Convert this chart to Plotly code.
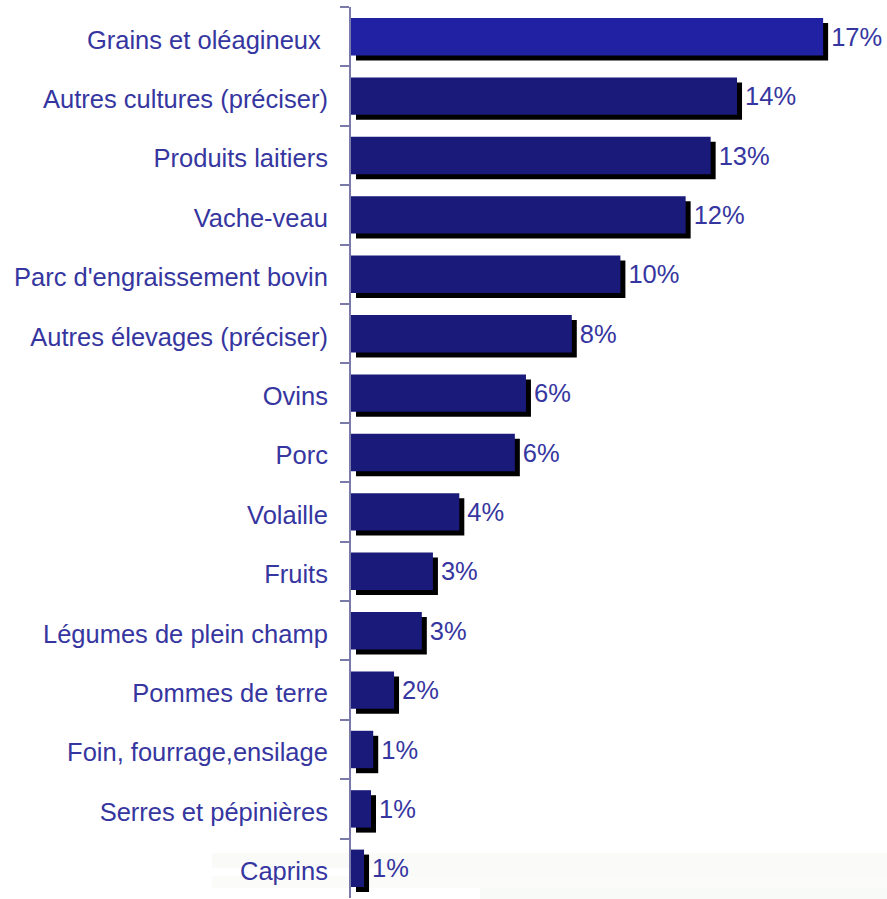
import plotly.graph_objects as go

categories = [
    "Grains et oléagineux\u00a0",
    "Autres cultures (préciser)",
    "Produits laitiers",
    "Vache-veau",
    "Parc d'engraissement bovin",
    "Autres élevages (préciser)",
    "Ovins",
    "Porc",
    "Volaille",
    "Fruits",
    "Légumes de plein champ",
    "Pommes de terre",
    "Foin, fourrage,ensilage",
    "Serres et pépinières",
    "Caprins",
]
values = [17.0, 13.9, 12.95, 12.05, 9.7, 7.95, 6.3, 5.9, 3.9, 2.95, 2.55, 1.55, 0.8, 0.72, 0.47]
value_labels = ["17%", "14%", "13%", "12%", "10%", "8%", "6%", "6%", "4%", "3%", "3%", "2%", "1%", "1%", "1%"]

bar_colors = ["#2121a3"] + ["#1a1a7a"] * (len(categories) - 1)
label_color = "#3636a0"
font_family = "Liberation Sans, Arial, sans-serif"
font_size = 25.5

W, H = 887, 899
ml, mr, mt, mb = 351, 0, 7, 1
x_max = 19.3
plot_w = W - ml - mr
plot_h = H - mt - mb
px_per_unit = plot_w / x_max
row_px = plot_h / len(categories)
bar_w = 0.63
shadow_dx = 5 / px_per_unit
shadow_dy = 5 / row_px

fig = go.Figure()

# shadow bars (black)
fig.add_trace(go.Bar(
    y=categories, x=values, orientation="h",
    base=[shadow_dx] * len(values),
    width=bar_w, offset=-bar_w / 2 + shadow_dy,
    marker=dict(color="#000000", line=dict(width=0)),
    hoverinfo="skip", showlegend=False,
))
# main bars
fig.add_trace(go.Bar(
    y=categories, x=values, orientation="h",
    width=bar_w, offset=-bar_w / 2,
    marker=dict(color=bar_colors, line=dict(width=0)),
    showlegend=False,
))
# transparent carrier for the value labels (placed after the shadow)
fig.add_trace(go.Bar(
    y=categories, x=values, orientation="h",
    base=[shadow_dx] * len(values),
    width=bar_w, offset=-bar_w / 2,
    marker=dict(color="rgba(0,0,0,0)", line=dict(width=0)),
    text=value_labels, textposition="outside",
    textfont=dict(color=label_color, size=font_size, family=font_family),
    cliponaxis=False, hoverinfo="skip", showlegend=False,
))


def px_x(px):
    return (px - ml) / plot_w


def px_y(py):
    return (H - mb - py) / plot_h


# faint background gradient bands at the bottom right
bands = [
    (212, 853, 868, "rgba(240,240,238,0.35)"),
    (380, 868, 876, "rgba(238,242,236,0.3)"),
    (212, 876, 888, "rgba(242,245,240,0.3)"),
    (480, 888, 899, "rgba(234,242,232,0.35)"),
]
for x0, y0, y1, c in bands:
    fig.add_shape(type="rect", xref="paper", yref="paper",
                  x0=px_x(x0), x1=px_x(W), y0=px_y(y1), y1=px_y(y0),
                  fillcolor=c, line=dict(width=0), layer="below")

fig.update_layout(
    width=W, height=H,
    margin=dict(l=ml, r=mr, t=mt, b=mb, pad=0),
    paper_bgcolor="white", plot_bgcolor="rgba(0,0,0,0)",
    barmode="overlay",
    font=dict(family=font_family, color=label_color, size=font_size),
    xaxis=dict(range=[0, x_max], visible=False, fixedrange=True),
    yaxis=dict(
        autorange="reversed", type="category",
        categoryorder="array", categoryarray=categories,
        showline=True, linecolor="#7a7aaa", linewidth=2,
        ticks="outside", ticklen=9, tickcolor="#7a7aaa", tickwidth=2,
        tickson="boundaries", ticklabelstandoff=16, ticklabelshift=-3,
        showgrid=False, zeroline=False, fixedrange=True,
        tickfont=dict(size=font_size, color=label_color, family=font_family),
    ),
)

fig.write_html("out.html", config={"displayModeBar": False},
               post_script="document.body.style.margin='0px';")
